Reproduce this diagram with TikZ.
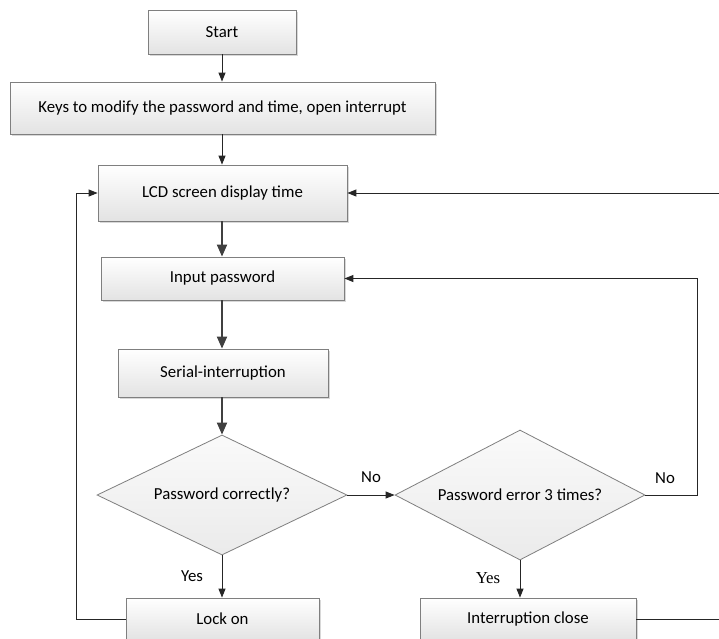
\documentclass[tikz,border=0pt]{standalone}
\usepackage{fontspec}
\setmainfont{Carlito}
\newfontfamily\timesf{Liberation Serif}
\usetikzlibrary{shapes.geometric,arrows.meta,shadows}
\definecolor{edge}{HTML}{7F7F7F}
\definecolor{linec}{HTML}{262626}
\definecolor{thickc}{HTML}{404040}
\newcommand{\dfont}{\fontsize{16.8}{19}\selectfont}
\tikzset{
  box/.style={draw=edge, line width=0.8pt, rectangle, inner sep=0pt,
    top color=white, bottom color=black!11,
    drop shadow={shadow xshift=1.8pt, shadow yshift=-1.8pt, fill=black!30},
    font=\dfont},
  dec/.style={draw=edge, line width=0.8pt, diamond, aspect=2, inner sep=0pt,
    top color=white!98!black, bottom color=black!8,
    font=\dfont},
  conn/.style={draw=linec, line width=0.9pt, -{Triangle[length=9pt,width=7pt]}},
  plain/.style={draw=linec, line width=0.9pt},
  heavy/.style={draw=thickc, line width=1.8pt, -{Triangle[length=12pt,width=10pt]}},
  lbl/.style={font=\dfont, inner sep=0pt}
}
\begin{document}
\begin{tikzpicture}[x=1pt,y=-1pt]
\useasboundingbox (0,0) rectangle (719,638);
\clip (0,0) rectangle (719,638);
\fill[white] (0,0) rectangle (719,638);

\node[box, minimum width=148pt, minimum height=44pt] (start) at (222,32) {Start};
\node[box, minimum width=425pt, minimum height=52pt] (keys) at (222.5,108) {Keys to modify the password and time, open interrupt};
\node[box, minimum width=249pt, minimum height=56pt] (lcd) at (222.5,193) {LCD screen display time};
\node[box, minimum width=243pt, minimum height=43pt] (input) at (222.5,278.5) {Input password};
\node[box, minimum width=210pt, minimum height=48pt] (serial) at (223,373) {Serial-interruption};
\node[dec, minimum width=250pt, minimum height=120pt] (d1) at (222,495) {Password correctly?};
\node[dec, minimum width=250pt, minimum height=130pt] (d2) at (520,495) {Password error 3 times?};
\node[box, minimum width=193pt, minimum height=42pt] (lock) at (222.5,619) {Lock on};
\node[box, minimum width=216pt, minimum height=42pt] (close) at (528,619) {Interruption close};

\coordinate (rtop) at (719,193);
\coordinate (rbot) at (719,619);
\coordinate (nocorner) at (697,495);
\coordinate (nocorner2) at (697,278.5);
\coordinate (lcorner) at (76,619);
\coordinate (lcorner2) at (76,193);

\draw[conn] (start.south -| 222,0) -- (keys.north -| 222,0);
\draw[conn] (keys.south -| 222,0) -- (lcd.north -| 222,0);
\draw[heavy] (lcd.south -| 222,0) -- (input.north -| 222,0);
\draw[heavy] (input.south -| 222,0) -- (serial.north -| 222,0);
\draw[heavy] (serial.south -| 222,0) -- (d1.north);
\draw[conn] (d1.east) -- node[lbl, above=12pt] {No} (d2.west);
\draw[conn] (d2.east) -- (nocorner) -- (nocorner2) -- (input.east);
\node[lbl] at (665,478) {No};
\draw[conn] (rtop) -- (lcd.east);
\draw[conn] (d1.south) -- (d1.south |- lock.north);
\node[lbl] at (192,576) {Yes};
\draw[conn] (d2.south) -- (d2.south |- close.north);
\node[lbl, font=\timesf\dfont] at (488,578) {Yes};
\draw[plain] (lock.west) -- (lcorner) -- (lcorner2);
\draw[conn] (lcorner2) -- (lcd.west);
\draw[plain] (close.east) -- (rbot);
\end{tikzpicture}
\end{document}
